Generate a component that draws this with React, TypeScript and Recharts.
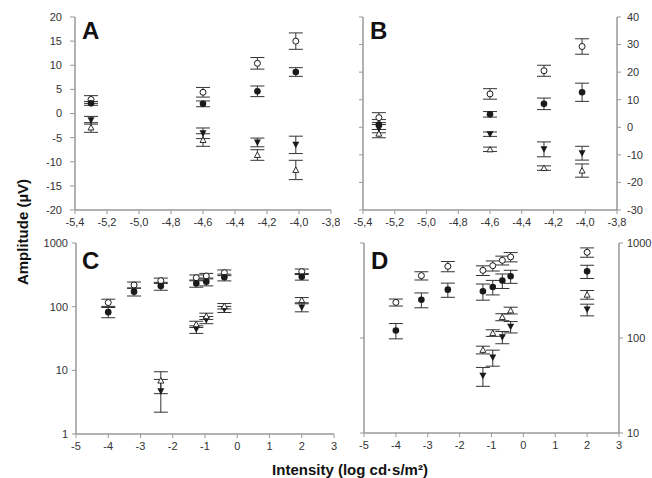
import { ScatterChart, Scatter, XAxis, YAxis, ErrorBar } from "recharts";

// intensities (log cd·s/m²)
const abX = [-5.3, -4.6, -4.26, -4.02];
const cdX = [-4.0, -3.2, -2.37, -1.27, -0.96, -0.4, 2.0];
const cdLowX = [-2.37, -1.27, -0.96, -0.4, 2.0];
const dX = [-4.0, -3.2, -2.37, -1.27, -0.96, -0.66, -0.4, 2.0];
const dLowX = [-1.27, -0.96, -0.66, -0.4, 2.0];

// panel A (µV)
const aOpen = [2.9, 4.4, 10.4, 15.0];
const aOpenErr = [0.8, 1.0, 1.2, 1.7];
const aFilled = [2.1, 2.0, 4.6, 8.6];
const aFilledErr = [0.4, 0.6, 1.1, 0.9];
const aTri = [-1.4, -4.1, -6.0, -6.5];
const aTriErr = [0.8, 1.1, 0.9, 1.8];
const aOpenTri = [-2.9, -5.5, -8.6, -11.7];
const aOpenTriErr = [1.0, 1.3, 1.1, 2.0];

// panel B (µV)
const bOpen = [3.5, 12.1, 20.5, 29.3];
const bOpenErr = [1.8, 1.9, 2.0, 2.8];
const bFilled = [1.0, 4.7, 8.5, 12.7];
const bFilledErr = [1.8, 1.0, 2.1, 3.3];
const bTri = [-0.5, -2.5, -8.0, -9.4];
const bTriErr = [1.5, 0.8, 2.7, 2.5];
const bOpenTri = [-2.3, -8.0, -14.8, -15.7];
const bOpenTriErr = [1.5, 0.8, 0.8, 2.4];

// panel C (µV, log)
const cOpen = [116, 219, 256, 285, 303, 342, 355];
const cOpenErr = [15, 25, 25, 30, 30, 35, 35];
const cFilled = [82, 172, 211, 232, 247, 289, 296];
const cFilledErr = [15, 25, 30, 30, 35, 35, 35];
const cTri = [4.7, 44, 62, 91, 97];
const cTriErr = [2.5, 6, 8, 10, 14];
const cOpenTri = [6.9, 53, 71, 102, 127];
const cOpenTriErr = [2.6, 6, 8, 10, 12];

// panel D (µV, log)
const dOpen = [237, 453, 568, 515, 577, 657, 713, 798];
const dOpenErr = [20, 45, 70, 60, 70, 70, 80, 90];
const dFilled = [120, 253, 323, 310, 344, 402, 446, 503];
const dFilledErr = [22, 45, 55, 60, 60, 70, 70, 80];
const dTri = [40, 62.5, 102, 131, 199];
const dTriErr = [9, 12, 15, 18, 28];
const dOpenTri = [75, 113, 166, 195, 286];
const dOpenTriErr = [7, 9, 14, 16, 30];

const abTicks = [-5.4, -5.2, -5.0, -4.8, -4.6, -4.4, -4.2, -4.0, -3.8];
const cdTicks = [-5, -4, -3, -2, -1, 0, 1, 2, 3];
const aTicks = [-20, -15, -10, -5, 0, 5, 10, 15, 20];
const bTicks = [-30, -20, -10, 0, 10, 20, 30, 40];
const cTicks = [1, 10, 100, 1000];
const dTicks = [10, 100, 1000];

const FRAME = "#999999";
const INK = "#1a1a1a";
const FONT = "'Liberation Sans', Arial, sans-serif";
const tickStyle = { fill: "#333", fontSize: 11, fontFamily: FONT };

const pts = (xs: number[], ys: number[], errs: number[]) =>
  ys.map((y, i) => ({ x: xs[i], y, err: errs[i] }));

const comma = (v: number) => v.toFixed(1).replace(".", ",");

const OpenCircle = (p: any) => (
  <circle cx={p.cx} cy={p.cy} r={3} fill="#fff" stroke={INK} strokeWidth={1} />
);
const FilledCircle = (p: any) => <circle cx={p.cx} cy={p.cy} r={3.3} fill={INK} />;
const FilledTri = (p: any) => (
  <path d={`M${p.cx - 3.5},${p.cy - 3} L${p.cx + 3.5},${p.cy - 3} L${p.cx},${p.cy + 3.5} Z`} fill={INK} />
);
const OpenTri = (p: any) => (
  <path
    d={`M${p.cx - 3},${p.cy + 2.5} L${p.cx + 3},${p.cy + 2.5} L${p.cx},${p.cy - 3} Z`}
    fill="#fff"
    stroke={INK}
    strokeWidth={0.9}
  />
);

// first two series sit on bottom/left axes, the other two on top/right
// (same domains), so every axis gets drawn and the frame is closed
function series(sets: { data: any[]; shape: any }[]) {
  return sets.map((s, i) => (
    <Scatter
      key={i}
      data={s.data}
      shape={s.shape}
      xAxisId={i < 2 ? "b" : "t"}
      yAxisId={i < 2 ? "l" : "r"}
      isAnimationActive={false}
    >
      <ErrorBar dataKey="err" direction="y" width={7} stroke="#333" strokeWidth={1} />
    </Scatter>
  ));
}

function Letter({ children, left, top }: any) {
  return (
    <div
      style={{
        position: "absolute",
        left,
        top,
        fontFamily: FONT,
        fontWeight: 700,
        fontSize: 24,
        lineHeight: "24px",
        color: "#111",
      }}
    >
      {children}
    </div>
  );
}

export default function App() {
  const frameLine = { stroke: FRAME, strokeWidth: 1.5 };
  const tickLine = { stroke: FRAME };

  return (
    <div style={{ position: "absolute", left: 0, top: 0, width: 652, height: 478, background: "#fff" }}>
      {/* A */}
      <div style={{ position: "absolute", left: 0, top: 0 }}>
        <ScatterChart width={340} height={240} margin={{ top: 17, right: 9, bottom: 0, left: 0 }}>
          <XAxis xAxisId="b" type="number" dataKey="x" domain={[-5.4, -3.8]} ticks={abTicks} tickFormatter={comma}
            height={30} tick={tickStyle} tickSize={4} tickMargin={4} axisLine={frameLine} tickLine={tickLine} />
          <XAxis xAxisId="t" orientation="top" type="number" dataKey="x" domain={[-5.4, -3.8]} height={0}
            tick={false} tickLine={false} axisLine={frameLine} />
          <YAxis yAxisId="l" type="number" dataKey="y" domain={[-20, 20]} ticks={aTicks} width={75}
            tick={tickStyle} tickSize={5} tickMargin={8} axisLine={frameLine} tickLine={tickLine} />
          <YAxis yAxisId="r" orientation="right" type="number" dataKey="y" domain={[-20, 20]} width={0}
            tick={false} tickLine={false} axisLine={frameLine} />
          {series([
            { data: pts(abX, aOpen, aOpenErr), shape: OpenCircle },
            { data: pts(abX, aFilled, aFilledErr), shape: FilledCircle },
            { data: pts(abX, aTri, aTriErr), shape: FilledTri },
            { data: pts(abX, aOpenTri, aOpenTriErr), shape: OpenTri },
          ])}
        </ScatterChart>
        <Letter left={82} top={19}>A</Letter>
      </div>

      {/* B */}
      <div style={{ position: "absolute", left: 340, top: 0 }}>
        <ScatterChart width={312} height={240} margin={{ top: 17, right: 0, bottom: 0, left: 0 }}>
          <XAxis xAxisId="b" type="number" dataKey="x" domain={[-5.4, -3.8]} ticks={abTicks} tickFormatter={comma}
            height={30} tick={tickStyle} tickSize={4} tickMargin={4} axisLine={frameLine} tickLine={tickLine} />
          <XAxis xAxisId="t" orientation="top" type="number" dataKey="x" domain={[-5.4, -3.8]} height={0}
            tick={false} tickLine={false} axisLine={frameLine} />
          <YAxis yAxisId="l" type="number" dataKey="y" domain={[-30, 40]} ticks={bTicks} width={23}
            tickFormatter={() => ""} tickSize={4} axisLine={frameLine} tickLine={tickLine} />
          <YAxis yAxisId="r" orientation="right" type="number" dataKey="y" domain={[-30, 40]} ticks={bTicks} width={35}
            tick={tickStyle} tickSize={4} tickMargin={6} axisLine={frameLine} tickLine={tickLine} />
          {series([
            { data: pts(abX, bOpen, bOpenErr), shape: OpenCircle },
            { data: pts(abX, bFilled, bFilledErr), shape: FilledCircle },
            { data: pts(abX, bTri, bTriErr), shape: FilledTri },
            { data: pts(abX, bOpenTri, bOpenTriErr), shape: OpenTri },
          ])}
        </ScatterChart>
        <Letter left={30} top={19}>B</Letter>
      </div>

      {/* C */}
      <div style={{ position: "absolute", left: 0, top: 230 }}>
        <ScatterChart width={340} height={230} margin={{ top: 13, right: 6, bottom: 0, left: 0 }}>
          <XAxis xAxisId="b" type="number" dataKey="x" domain={[-5, 3]} ticks={cdTicks}
            height={26} tick={tickStyle} tickSize={4} tickMargin={4} axisLine={frameLine} tickLine={tickLine} />
          <XAxis xAxisId="t" orientation="top" type="number" dataKey="x" domain={[-5, 3]} height={0}
            tick={false} tickLine={false} axisLine={frameLine} />
          <YAxis yAxisId="l" type="number" dataKey="y" scale="log" domain={[1, 1000]} ticks={cTicks} allowDataOverflow
            width={76} tick={tickStyle} tickSize={4} tickMargin={4} axisLine={frameLine} tickLine={tickLine} />
          <YAxis yAxisId="r" orientation="right" type="number" dataKey="y" scale="log" domain={[1, 1000]}
            allowDataOverflow width={0} tick={false} tickLine={false} axisLine={frameLine} />
          {series([
            { data: pts(cdX, cOpen, cOpenErr), shape: OpenCircle },
            { data: pts(cdX, cFilled, cFilledErr), shape: FilledCircle },
            { data: pts(cdLowX, cTri, cTriErr), shape: FilledTri },
            { data: pts(cdLowX, cOpenTri, cOpenTriErr), shape: OpenTri },
          ])}
        </ScatterChart>
        <Letter left={82} top={19}>C</Letter>
      </div>

      {/* D */}
      <div style={{ position: "absolute", left: 340, top: 230 }}>
        <ScatterChart width={312} height={230} margin={{ top: 13, right: 0, bottom: 0, left: 0 }}>
          <XAxis xAxisId="b" type="number" dataKey="x" domain={[-5, 3]} ticks={cdTicks}
            height={27} tick={tickStyle} tickSize={4} tickMargin={4} axisLine={frameLine} tickLine={tickLine} />
          <XAxis xAxisId="t" orientation="top" type="number" dataKey="x" domain={[-5, 3]} height={0}
            tick={false} tickLine={false} axisLine={frameLine} />
          <YAxis yAxisId="l" type="number" dataKey="y" scale="log" domain={[10, 1000]} ticks={dTicks} allowDataOverflow
            width={24} tickFormatter={() => ""} tickSize={4} axisLine={frameLine} tickLine={tickLine} />
          <YAxis yAxisId="r" orientation="right" type="number" dataKey="y" scale="log" domain={[10, 1000]}
            ticks={dTicks} allowDataOverflow width={33} tick={tickStyle} tickSize={4} tickMargin={4}
            axisLine={frameLine} tickLine={tickLine} />
          {series([
            { data: pts(dX, dOpen, dOpenErr), shape: OpenCircle },
            { data: pts(dX, dFilled, dFilledErr), shape: FilledCircle },
            { data: pts(dLowX, dTri, dTriErr), shape: FilledTri },
            { data: pts(dLowX, dOpenTri, dOpenTriErr), shape: OpenTri },
          ])}
        </ScatterChart>
        <Letter left={31} top={19}>D</Letter>
      </div>

      {/* axis titles */}
      <div
        style={{
          position: "absolute",
          left: 22,
          top: 232,
          transform: "translate(-50%, -50%) rotate(-90deg)",
          whiteSpace: "nowrap",
          fontFamily: FONT,
          fontWeight: 700,
          fontSize: 15,
          color: "#111",
        }}
      >
        Amplitude (µV)
      </div>
      <div
        style={{
          position: "absolute",
          left: 350,
          top: 469,
          transform: "translate(-50%, -50%)",
          whiteSpace: "nowrap",
          fontFamily: FONT,
          fontWeight: 700,
          fontSize: 15,
          color: "#111",
        }}
      >
        Intensity (log cd·s/m²)
      </div>
    </div>
  );
}
